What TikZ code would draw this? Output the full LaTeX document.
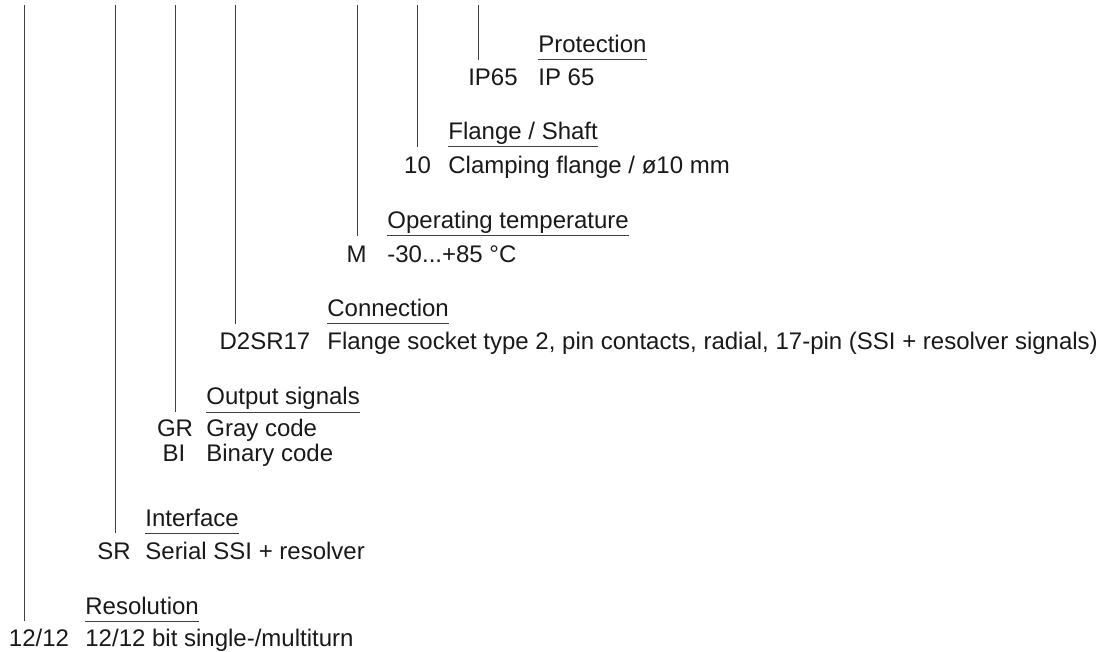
\documentclass[tikz,border=0pt]{standalone}
\usepackage{fontspec}
\setmainfont{Liberation Sans}
\begin{document}
\begin{tikzpicture}[x=0.5pt,y=-0.5pt,
  txt/.style={inner sep=0pt,font=\fontsize{12}{14}\selectfont,text=black!90},
  code/.style={txt,anchor=base},
  head/.style={txt,anchor=base west},
  desc/.style={txt,anchor=base west},
  lead/.style={draw=black!75,line width=0.5pt}]

  \useasboundingbox (0,0) rectangle (1109,652);

  % Protection
  \node[head] (hprot) at (538,53) {Protection};
  \node[desc] (dprot) at (538,86) {IP 65};
  \node[code] (cprot) at (493,86) {IP65};
  \coordinate (tprot) at (478,5);
  \coordinate (uprot) at ([yshift=-3.5pt]hprot.base west);
  \draw[lead] (uprot) -- (uprot -| hprot.east);
  \draw[lead] (tprot) -- (tprot |- uprot);

  % Flange / Shaft
  \node[head] (hflan) at (448,140) {Flange / Shaft};
  \node[desc] (dflan) at (448,174) {Clamping flange / ø10 mm};
  \node[code] (cflan) at (417.5,174) {10};
  \coordinate (tflan) at (417,5);
  \coordinate (uflan) at ([yshift=-3.5pt]hflan.base west);
  \draw[lead] (uflan) -- (uflan -| hflan.east);
  \draw[lead] (tflan) -- (tflan |- uflan);

  % Operating temperature
  \node[head] (htemp) at (387,229) {Operating temperature};
  \node[desc] (dtemp) at (387,263) {-30...+85 °C};
  \node[code] (ctemp) at (356.5,263) {M};
  \coordinate (ttemp) at (357,5);
  \coordinate (utemp) at ([yshift=-3.5pt]htemp.base west);
  \draw[lead] (utemp) -- (utemp -| htemp.east);
  \draw[lead] (ttemp) -- (ttemp |- utemp);

  % Connection
  \node[head] (hconn) at (327,317) {Connection};
  \node[desc] (dconn) at (327,350) {Flange socket type 2, pin contacts, radial, 17-pin (SSI + resolver signals)};
  \node[code] (cconn) at (265,350) {D2SR17};
  \coordinate (tconn) at (235.5,5);
  \coordinate (uconn) at ([yshift=-3.5pt]hconn.base west);
  \draw[lead] (uconn) -- (uconn -| hconn.east);
  \draw[lead] (tconn) -- (tconn |- uconn);

  % Output signals
  \node[head] (hout) at (206,405) {Output signals};
  \node[desc] (dgray) at (206,437) {Gray code};
  \node[desc] (dbin) at (206,461) {Binary code};
  \node[code] (cgray) at (175,437) {GR};
  \node[code] (cbin) at (174,461) {BI};
  \coordinate (tout) at (175,5);
  \coordinate (uout) at ([yshift=-3.5pt]hout.base west);
  \draw[lead] (uout) -- (uout -| hout.east);
  \draw[lead] (tout) -- (tout |- uout);

  % Interface
  \node[head] (hintf) at (145,526) {Interface};
  \node[desc] (dintf) at (145,559.5) {Serial SSI + resolver};
  \node[code] (cintf) at (114,559.5) {SR};
  \coordinate (tintf) at (115,5);
  \coordinate (uintf) at ([yshift=-3.5pt]hintf.base west);
  \draw[lead] (uintf) -- (uintf -| hintf.east);
  \draw[lead] (tintf) -- (tintf |- uintf);

  % Resolution
  \node[head] (hres) at (85,614) {Resolution};
  \node[desc] (dres) at (85,646) {12/12 bit single-/multiturn};
  \node[code] (cres) at (39,646) {12/12};
  \coordinate (tres) at (24,5);
  \coordinate (ures) at ([yshift=-3.5pt]hres.base west);
  \draw[lead] (ures) -- (ures -| hres.east);
  \draw[lead] (tres) -- (tres |- ures);

\end{tikzpicture}
\end{document}
